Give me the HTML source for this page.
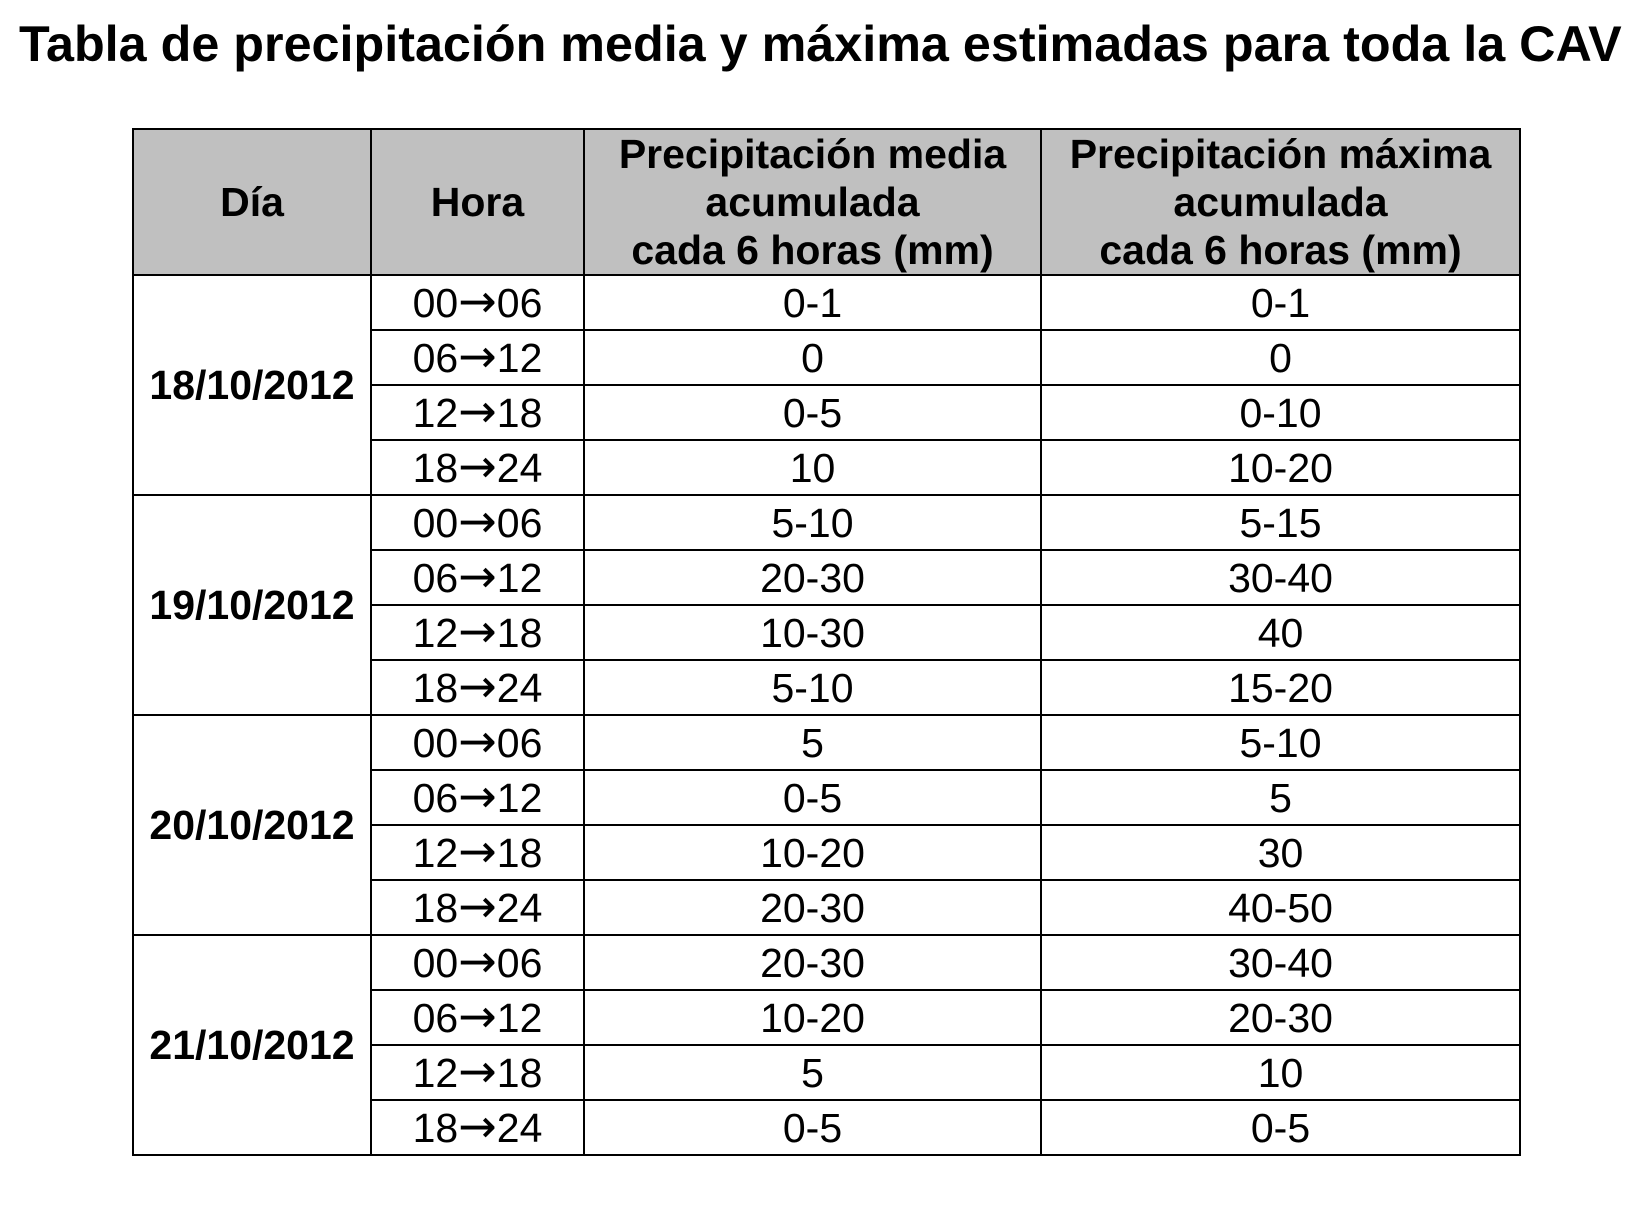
<!DOCTYPE html>
<html><head><meta charset="utf-8"><style>
body{margin:0;width:1644px;height:1213px;background:#fff;position:relative;font-family:"Liberation Sans",Arial,sans-serif;}
.t{position:absolute;left:19px;top:14px;font-size:50.3px;font-weight:bold;white-space:nowrap;}
table{position:absolute;left:132px;top:128px;border-collapse:collapse;}
td,th{border:2px solid #000;text-align:center;padding:0;font-size:41px;line-height:44px;white-space:nowrap}
th{background:#c0c0c0;font-size:41px;height:143px;line-height:48px}
td{height:53px}
td.d{font-weight:bold;font-size:41px}
.a{font-family:"DejaVu Sans",sans-serif;font-size:46px;line-height:40px}
</style></head><body>
<div class="t">Tabla de precipitación media y máxima estimadas para toda la CAV</div>
<table>
<colgroup><col style="width:238px"><col style="width:213px"><col style="width:457px"><col style="width:479px"></colgroup>
<tr><th>Día</th><th>Hora</th><th>Precipitación media<br>acumulada<br>cada 6 horas (mm)</th><th>Precipitación máxima<br>acumulada<br>cada 6 horas (mm)</th></tr>
<tr><td class="d" rowspan="4">18/10/2012</td><td>00<span class="a">→</span>06</td><td>0-1</td><td>0-1</td></tr>
<tr><td>06<span class="a">→</span>12</td><td>0</td><td>0</td></tr>
<tr><td>12<span class="a">→</span>18</td><td>0-5</td><td>0-10</td></tr>
<tr><td>18<span class="a">→</span>24</td><td>10</td><td>10-20</td></tr>
<tr><td class="d" rowspan="4">19/10/2012</td><td>00<span class="a">→</span>06</td><td>5-10</td><td>5-15</td></tr>
<tr><td>06<span class="a">→</span>12</td><td>20-30</td><td>30-40</td></tr>
<tr><td>12<span class="a">→</span>18</td><td>10-30</td><td>40</td></tr>
<tr><td>18<span class="a">→</span>24</td><td>5-10</td><td>15-20</td></tr>
<tr><td class="d" rowspan="4">20/10/2012</td><td>00<span class="a">→</span>06</td><td>5</td><td>5-10</td></tr>
<tr><td>06<span class="a">→</span>12</td><td>0-5</td><td>5</td></tr>
<tr><td>12<span class="a">→</span>18</td><td>10-20</td><td>30</td></tr>
<tr><td>18<span class="a">→</span>24</td><td>20-30</td><td>40-50</td></tr>
<tr><td class="d" rowspan="4">21/10/2012</td><td>00<span class="a">→</span>06</td><td>20-30</td><td>30-40</td></tr>
<tr><td>06<span class="a">→</span>12</td><td>10-20</td><td>20-30</td></tr>
<tr><td>12<span class="a">→</span>18</td><td>5</td><td>10</td></tr>
<tr><td>18<span class="a">→</span>24</td><td>0-5</td><td>0-5</td></tr>
</table>
</body></html>
